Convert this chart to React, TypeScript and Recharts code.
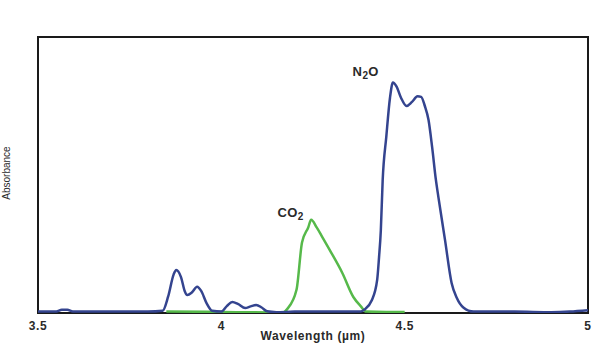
import { LineChart, Line, XAxis, YAxis, ReferenceArea, ReferenceDot } from 'recharts';

// N2O absorbance trace (wavelength in µm, relative absorbance)
const n2oWavelength = [
  3.5, 3.55, 3.565, 3.58, 3.595, 3.7, 3.8, 3.84, 3.855, 3.87, 3.877, 3.89, 3.9, 3.907,
  3.92, 3.934, 3.945, 3.96, 3.975, 4.0, 4.015, 4.03, 4.045, 4.065, 4.08, 4.095, 4.11,
  4.125, 4.15, 4.2, 4.3, 4.38, 4.39, 4.41, 4.425, 4.43, 4.435, 4.44, 4.45, 4.46, 4.468,
  4.478, 4.49, 4.505, 4.52, 4.535, 4.545, 4.555, 4.565, 4.575, 4.585, 4.592, 4.61,
  4.628, 4.642, 4.66, 4.688, 4.8, 4.9, 4.95, 5.0,
];
const n2oAbsorbance = [
  0.5, 0.5, 1.2, 1.2, 0.5, 0.5, 0.5, 0.8, 6, 14, 15.6, 13, 8, 6.5,
  7.5, 9.5, 8, 3.5, 0.8, 0.5, 2.5, 4, 3.3, 1.8, 2.4, 2.9, 2,
  0.6, 0.3, 0.5, 0.5, 0.5, 1.2, 4.5, 12, 20, 30, 48, 64, 78, 83.5,
  82, 78, 75, 76.5, 78.5, 78.3, 75, 70, 60, 48.4, 42, 26.5,
  10.9, 5.5, 2, 0.5, 0.5, 0.3, 0.5, 1,
];

// CO2 absorbance trace
const co2Wavelength = [
  3.85, 4.0, 4.15, 4.17, 4.18, 4.205, 4.22, 4.237, 4.245, 4.26, 4.275, 4.3, 4.33,
  4.36, 4.38, 4.395, 4.45, 4.5,
];
const co2Absorbance = [
  0.5, 0.4, 0.2, 0.3, 1.5, 8.4, 25.5, 31, 33.8, 31, 27.6, 21.8, 14.5,
  5.8, 2.5, 0.5, 0.4, 0.4,
];

const xTicks = [3.5, 4, 4.5, 5];

const n2oData = n2oWavelength.map((w, i) => ({ w, a: n2oAbsorbance[i] }));
const co2Data = co2Wavelength.map((w, i) => ({ w, a: co2Absorbance[i] }));

const font = "'Liberation Sans', Arial, sans-serif";
const textStyle = { fontFamily: font, fontSize: 12, fontWeight: 'bold', fill: '#2a2a2a', letterSpacing: 0.6 };

// formula label with a subscript digit, e.g. N2O / CO2
const FormulaLabel = ({ viewBox, head, sub, tail }: any) => (
  <text x={viewBox.x} y={viewBox.y} fontFamily={font} fontSize={13} fontWeight="bold" fill="#2a2a2a" letterSpacing={0.4}>
    <tspan>{head}</tspan>
    <tspan dy={3} fontSize={10}>{sub}</tspan>
    <tspan dy={-3}>{tail}</tspan>
  </text>
);

const App = () => {
  return (
    <div style={{ position: 'absolute', left: 0, top: 0 }}>
      <LineChart width={607} height={363} margin={{ top: 37, right: 19, bottom: 10, left: 0 }}>
        <XAxis
          type="number"
          dataKey="w"
          domain={[3.5, 5]}
          ticks={xTicks}
          allowDataOverflow
          tickLine={false}
          axisLine={false}
          height={40}
          tick={textStyle}
          label={{
            value: 'Wavelength (µm)',
            position: 'insideBottom',
            offset: 13,
            style: textStyle,
          }}
        />
        <YAxis
          type="number"
          domain={[0, 100]}
          allowDataOverflow
          width={38}
          tick={false}
          tickLine={false}
          axisLine={false}
          label={({ viewBox }: any) => (
            <text
              transform={`translate(${viewBox.x + 10}, ${viewBox.y + viewBox.height / 2 - 2}) rotate(-90)`}
              textAnchor="middle"
              fontFamily={font}
              fontSize={10}
              fill="#2a2a2a"
            >
              Absorbance
            </text>
          )}
        />
        <ReferenceArea x1={3.5} x2={5} y1={0} y2={100} fill="none" stroke="#1a1a1a" strokeWidth={2} />
        <Line
          data={co2Data}
          dataKey="a"
          type="monotone"
          stroke="#56b94a"
          strokeWidth={2.5}
          dot={false}
          isAnimationActive={false}
        />
        <Line
          data={n2oData}
          dataKey="a"
          type="monotone"
          stroke="#34448f"
          strokeWidth={2.5}
          dot={false}
          isAnimationActive={false}
        />
        <ReferenceDot
          x={4.358}
          y={85.8}
          r={0}
          fill="none"
          stroke="none"
          label={(p: any) => <FormulaLabel viewBox={p.viewBox} head="N" sub="2" tail="O" />}
        />
        <ReferenceDot
          x={4.153}
          y={34.9}
          r={0}
          fill="none"
          stroke="none"
          label={(p: any) => <FormulaLabel viewBox={p.viewBox} head="CO" sub="2" tail="" />}
        />
      </LineChart>
    </div>
  );
};

export default App;
